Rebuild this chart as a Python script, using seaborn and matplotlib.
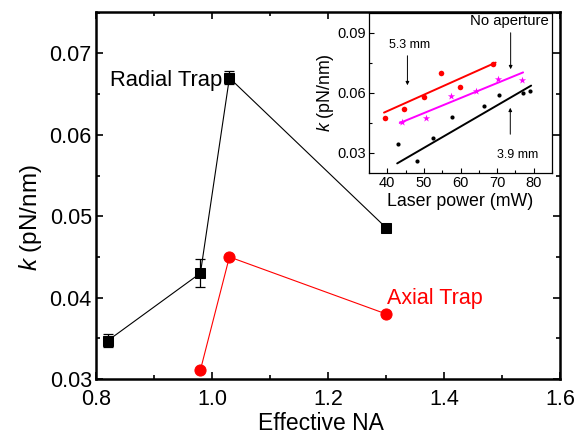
import numpy as np
import pandas as pd
import matplotlib
matplotlib.use("Agg")
import matplotlib.pyplot as plt
import seaborn as sns
from matplotlib.ticker import MultipleLocator

sns.set_style("ticks")
plt.rcParams['font.family'] = ['Liberation Sans', 'DejaVu Sans']
plt.rcParams['mathtext.fontset'] = 'custom'
plt.rcParams['mathtext.it'] = 'Liberation Sans:italic'
plt.rcParams['mathtext.rm'] = 'Liberation Sans'
for key in ['axes.edgecolor', 'text.color', 'axes.labelcolor',
            'xtick.color', 'ytick.color']:
    plt.rcParams[key] = 'black'

# main plot data
radial_na = [0.82, 0.98, 1.03, 1.30]
radial_k = [0.0347, 0.0430, 0.0670, 0.0486]
radial_err = [0.0008, 0.0017, 0.0008, 0.0002]
axial_na = [0.98, 1.03, 1.30]
axial_k = [0.0311, 0.0450, 0.0380]

# inset data (laser power in mW, k in pN/nm)
p53_power = [39.3, 44.6, 49.9, 54.7, 59.9, 69.0]
p53_k = [0.0475, 0.0522, 0.0580, 0.0700, 0.0630, 0.0747]
noap_power = [44.1, 50.5, 57.4, 64.1, 70.3, 76.9]
noap_k = [0.0453, 0.0477, 0.0585, 0.0608, 0.0672, 0.0667]
p39_power = [42.9, 48.1, 52.6, 57.7, 66.3, 70.5, 77.2, 79.1]
p39_k = [0.0347, 0.0260, 0.0375, 0.0478, 0.0537, 0.0590, 0.0602, 0.0608]

# linear fit lines (end points)
p53_fit_x = [39.1, 69.6]
p53_fit_y = [0.0502, 0.0752]
noap_fit_x = [43.4, 77.1]
noap_fit_y = [0.0450, 0.0703]
p39_fit_x = [42.7, 79.3]
p39_fit_y = [0.0248, 0.0637]

fig = plt.figure(figsize=(5.77, 4.42), dpi=100)
ax = fig.add_axes([0.1664, 0.1425, 0.8041, 0.8304])

ax.errorbar(radial_na, radial_k, yerr=radial_err, fmt='none', ecolor='black',
            elinewidth=0.9, capsize=3.5, capthick=0.9, zorder=2)
sns.lineplot(x=radial_na, y=radial_k, ax=ax, color='black', lw=0.8,
             marker='s', markersize=7.5, markeredgecolor='black', zorder=3)
sns.lineplot(x=axial_na, y=axial_k, ax=ax, color='red', lw=0.8,
             marker='o', markersize=8, markeredgecolor='red', zorder=3)

ax.set_xlim(0.8, 1.6)
ax.set_ylim(0.03, 0.0751)
ax.xaxis.set_major_locator(MultipleLocator(0.2))
ax.xaxis.set_minor_locator(MultipleLocator(0.1))
ax.yaxis.set_major_locator(MultipleLocator(0.01))
ax.yaxis.set_minor_locator(MultipleLocator(0.005))
ax.set_xticklabels([f"{v:.1f}" for v in ax.get_xticks()])
ax.tick_params(which='both', direction='in', top=True, right=True, width=1.2)
ax.tick_params(which='major', length=5, labelsize=15.5)
ax.tick_params(axis='x', which='major', pad=7)
ax.tick_params(axis='y', which='major', pad=3)
ax.tick_params(which='minor', length=3)
for s in ax.spines.values():
    s.set_linewidth(1.8)
ax.set_xlabel("Effective NA", fontsize=16.5)
ax.set_ylabel(r"$k$ (pN/nm)", fontsize=17.5)
ax.xaxis.set_label_coords(0.485, -0.12)
ax.xaxis.label.set_va('center')
ax.yaxis.set_label_coords(-0.142, 0.44)
ax.yaxis.label.set_va('center')
ax.text(0.824, 0.0667, "Radial Trap", fontsize=15.8, ha='left', va='center')
ax.text(1.301, 0.0399, "Axial Trap", fontsize=15.5, ha='left', va='center',
        color='red')

# inset
ins = fig.add_axes([0.6395, 0.6086, 0.3172, 0.3620])
ins.set_facecolor('white')
ins.set_zorder(5)
sns.scatterplot(x=p53_power, y=p53_k, ax=ins, color='red', marker='o', s=16,
                edgecolor='red', linewidth=0)
sns.scatterplot(x=noap_power, y=noap_k, ax=ins, color='magenta', marker='*',
                s=30, edgecolor='magenta', linewidth=0)
sns.scatterplot(x=p39_power, y=p39_k, ax=ins, color='black', marker='o', s=9,
                edgecolor='black', linewidth=0)
sns.lineplot(x=p53_fit_x, y=p53_fit_y, ax=ins, color='red', lw=1.4)
sns.lineplot(x=noap_fit_x, y=noap_fit_y, ax=ins, color='magenta', lw=1.4)
sns.lineplot(x=p39_fit_x, y=p39_fit_y, ax=ins, color='black', lw=1.4)

ins.set_xlim(35, 85)
ins.set_ylim(0.02, 0.10)
ins.xaxis.set_major_locator(MultipleLocator(10))
ins.xaxis.set_minor_locator(MultipleLocator(5))
ins.yaxis.set_major_locator(MultipleLocator(0.03))
ins.yaxis.set_minor_locator(MultipleLocator(0.015))
ins.set_yticklabels([f"{v:.2f}" for v in ins.get_yticks()])
ins.tick_params(which='both', direction='in', width=0.8)
ins.tick_params(which='major', length=3.5, labelsize=10.5, pad=2)
ins.tick_params(which='minor', length=2)
for s in ins.spines.values():
    s.set_linewidth(0.9)
ins.set_xlabel("Laser power (mW)", fontsize=12.8, labelpad=2)
ins.set_ylabel(r"$k$ (pN/nm)", fontsize=12.8, labelpad=1)

arrow = dict(arrowstyle='-|>', color='black', lw=0.7, mutation_scale=5)
ins.annotate("", xy=(45.5, 0.0625), xytext=(45.5, 0.0800), arrowprops=arrow)
ins.annotate("", xy=(73.7, 0.0705), xytext=(73.7, 0.0915), arrowprops=arrow)
ins.annotate("", xy=(73.6, 0.0540), xytext=(73.6, 0.0380), arrowprops=arrow)
ins.text(46.2, 0.0840, "5.3 mm", fontsize=9, ha='center', va='center')
ins.text(73.3, 0.0958, "No aperture", fontsize=10.7, ha='center', va='center')
ins.text(75.6, 0.0292, "3.9 mm", fontsize=9, ha='center', va='center')

fig.savefig("out.png", dpi=100)
